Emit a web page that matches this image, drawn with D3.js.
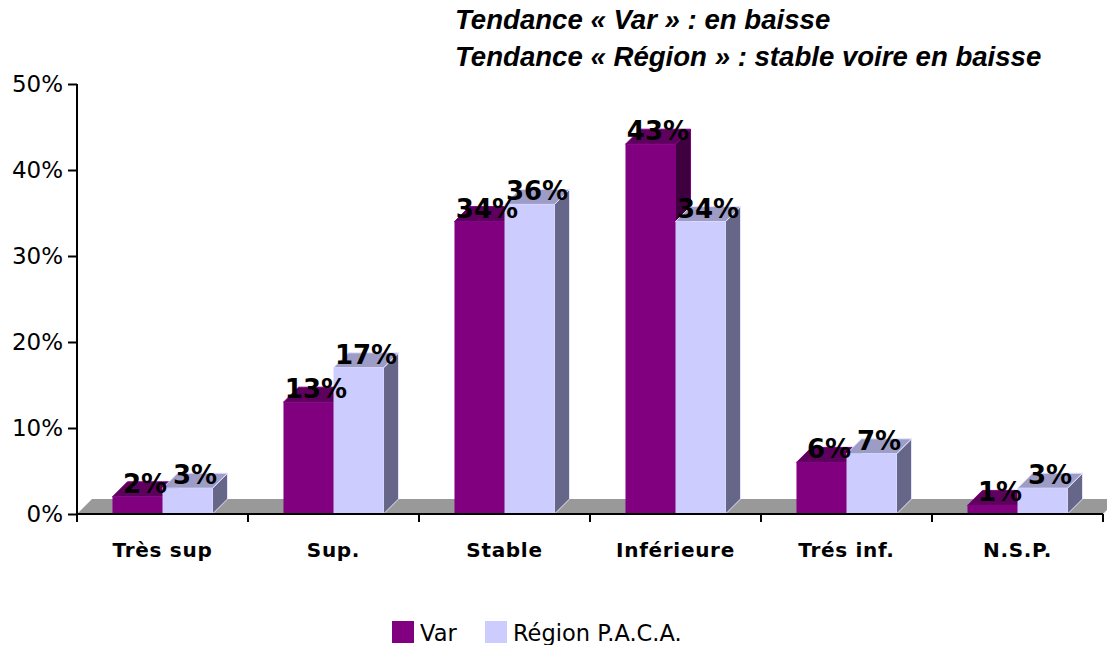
<!DOCTYPE html>
<html>
<head>
<meta charset="utf-8">
<script src="https://cdn.jsdelivr.net/npm/d3@7"></script>
<style>
  body { margin: 0; background: #fff; }
  svg { display: block; }
</style>
</head>
<body>
<div id="chart"></div>
<script>
// data
var categories = ["Très sup", "Sup.", "Stable", "Inférieure", "Trés inf.", "N.S.P."];
var seriesNames = ["Var", "Région P.A.C.A."];
var varValues = [2, 13, 34, 43, 6, 1];
var regionValues = [3, 17, 36, 34, 7, 3];
var yTicks = [0, 10, 20, 30, 40, 50];
var titleLines = ["Tendance « Var » : en baisse", "Tendance « Région » : stable voire en baisse"];

var W = 1107, H = 645;
var margin = {top: 84, right: 4, bottom: 131, left: 77},
	width = W - margin.left - margin.right,
	height = H - margin.top - margin.bottom;

var depth = 15;
var colors = [
	{front: "#800080", top: "#5e005e", side: "#3e003e", stroke: "#800080"},
	{front: "#ccccff", top: "#9c9cc6", side: "#666688", stroke: "#e4e4ff"}
];

var svg = d3.select("#chart").append("svg")
	.attr("width", W)
	.attr("height", H);

var plot = svg.append("g")
	.attr("transform", "translate(" + margin.left + "," + margin.top + ")");

// scales
var x0 = d3.scaleBand().domain(categories).range([0, width]).paddingInner(0.415).paddingOuter(0.2075);
var x1 = d3.scaleBand().domain([0, 1]).range([0, x0.bandwidth()]);
var y = d3.scaleLinear().domain([0, 50]).range([height, 0]);

// floor
plot.append("path")
	.attr("d", "M0," + height + "L" + depth + "," + (height - depth) + "L" + (width + depth) + "," + (height - depth) + "L" + width + "," + height + "Z")
	.attr("fill", "#999999");

// bars
var data = categories.map(function(c, i) { return {cat: c, vals: [varValues[i], regionValues[i]]}; });

data.forEach(function(d) {
	d.vals.forEach(function(v, s) {
		var bx = x0(d.cat) + x1(s), bw = x1.bandwidth();
		var by = y(v), b0 = y(0);
		var g = plot.append("g");
		var c = colors[s];
		// side
		g.append("path")
			.attr("d", "M" + (bx + bw) + "," + by + "L" + (bx + bw + depth) + "," + (by - depth) + "L" + (bx + bw + depth) + "," + (b0 - depth) + "L" + (bx + bw) + "," + b0 + "Z")
			.attr("fill", c.side).attr("stroke", c.stroke).attr("stroke-width", 1);
		// top
		g.append("path")
			.attr("d", "M" + bx + "," + by + "L" + (bx + depth) + "," + (by - depth) + "L" + (bx + bw + depth) + "," + (by - depth) + "L" + (bx + bw) + "," + by + "Z")
			.attr("fill", c.top).attr("stroke", c.stroke).attr("stroke-width", 1);
		// front
		g.append("rect")
			.attr("x", bx).attr("y", by)
			.attr("width", bw).attr("height", b0 - by)
			.attr("fill", c.front);
	});
});

// axes
plot.append("line")
	.attr("x1", 0).attr("x2", width).attr("y1", height).attr("y2", height)
	.attr("stroke", "#000").attr("stroke-width", 2);

var step = x0.step();
plot.selectAll(".xtick")
	.data(d3.range(categories.length + 1))
	.enter().append("line")
	.attr("x1", function(i) { return i * step; })
	.attr("x2", function(i) { return i * step; })
	.attr("y1", height).attr("y2", height + 8)
	.attr("stroke", "#000").attr("stroke-width", 2);

var yAxis = plot.append("g")
	.call(d3.axisLeft(y).tickValues(yTicks).tickSize(9).tickPadding(5)
		.tickFormat(function(d) { return d + "%"; }));
yAxis.select(".domain").attr("stroke-width", 2).attr("d", "M0,0V" + (height + 8));
yAxis.selectAll(".tick line").attr("stroke-width", 2);
yAxis.selectAll("text")
	.attr("font-family", "DejaVu Sans, sans-serif")
	.attr("font-size", 23)
	.attr("fill", "#000");

// category labels
plot.selectAll(".cat")
	.data(categories)
	.enter().append("text")
	.attr("x", function(d) { return x0(d) + x0.bandwidth() / 2; })
	.attr("y", height + 43)
	.attr("text-anchor", "middle")
	.attr("font-family", "DejaVu Sans, sans-serif")
	.attr("font-weight", "bold")
	.attr("font-size", 20)
	.attr("letter-spacing", 0.7)
	.text(function(d) { return d; });

// value labels
data.forEach(function(d) {
	d.vals.forEach(function(v, s) {
		plot.append("text")
			.attr("x", x0(d.cat) + x1(s) + x1.bandwidth() / 2 + depth / 2)
			.attr("y", y(v) - 4)
			.attr("text-anchor", "middle")
			.attr("font-family", "DejaVu Sans, sans-serif")
			.attr("font-weight", "bold")
			.attr("font-size", 26)
			.text(v + "%");
	});
});

// title
svg.selectAll(".title")
	.data(titleLines)
	.enter().append("text")
	.attr("x", 455)
	.attr("y", function(d, i) { return 29 + i * 37; })
	.attr("font-family", "Liberation Sans, Arial, sans-serif")
	.attr("font-weight", "bold")
	.attr("font-style", "italic")
	.attr("font-size", 27.6)
	.text(function(d) { return d; });

// legend
var legend = svg.append("g").attr("transform", "translate(392,621)");
var lx = [0, 93];
seriesNames.forEach(function(n, i) {
	legend.append("rect")
		.attr("x", lx[i]).attr("y", 0)
		.attr("width", 22).attr("height", 22)
		.attr("fill", colors[i].front);
	legend.append("text")
		.attr("x", lx[i] + 28).attr("y", 20)
		.attr("font-family", "DejaVu Sans, sans-serif")
		.attr("font-size", 22.5)
		.text(n);
});
</script>
</body>
</html>
